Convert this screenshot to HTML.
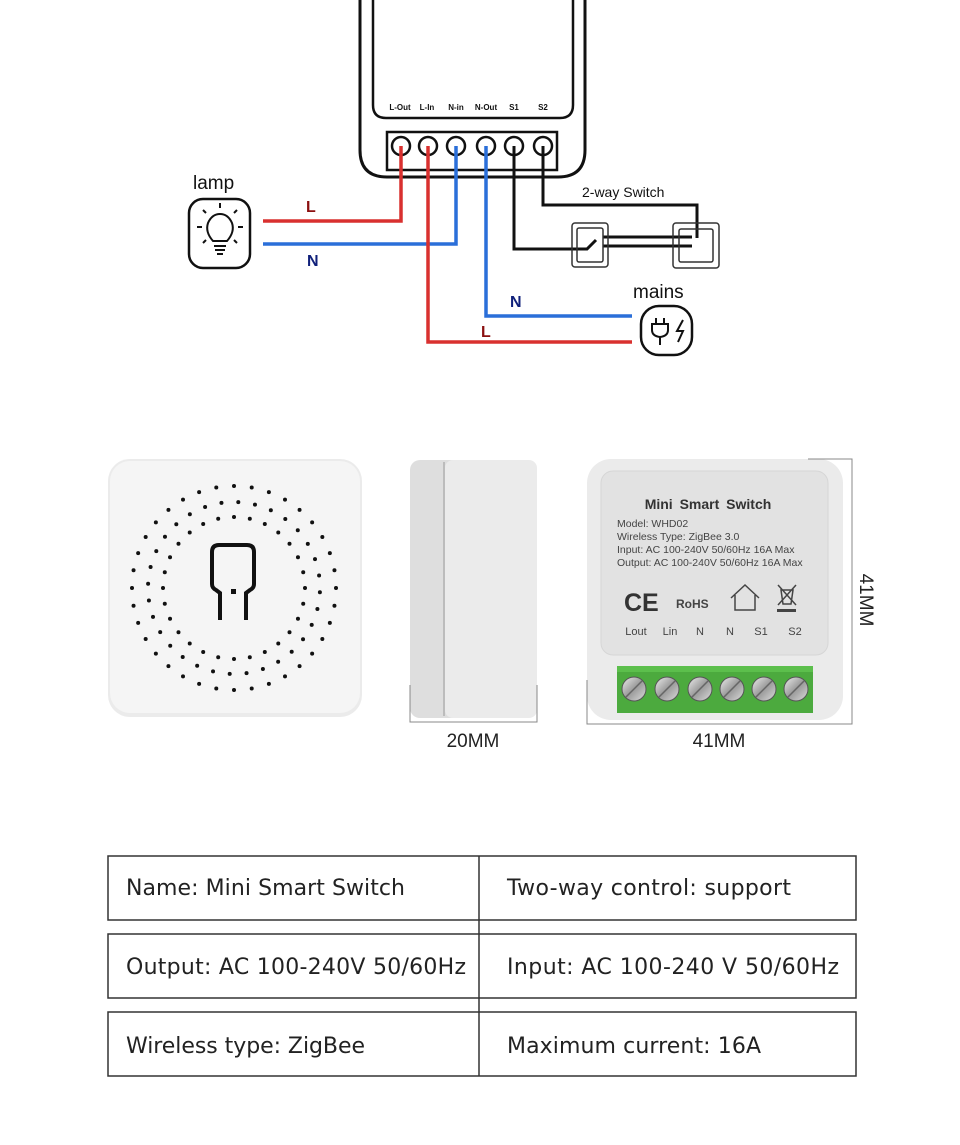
<!DOCTYPE html>
<html><head><meta charset="utf-8"><style>
body{margin:0;background:#fff;width:960px;height:1145px;overflow:hidden}
svg{display:block}
text{font-family:"Liberation Sans",sans-serif}
</style></head><body>
<svg id="s" width="960" height="1145" viewBox="0 0 960 1145" xmlns="http://www.w3.org/2000/svg">
<defs>
<linearGradient id="sc" x1="0" y1="0" x2="1" y2="1"><stop offset="0" stop-color="#eee"/><stop offset="0.5" stop-color="#999"/><stop offset="1" stop-color="#ddd"/></linearGradient>
</defs>
<path d="M360 0 V150 Q360 177 387 177 H558 Q585 177 585 150 V0" fill="none" stroke="#111" stroke-width="3"/>
<path d="M373 0 V105 Q373 118 386 118 H560 Q573 118 573 105 V0" fill="none" stroke="#111" stroke-width="2.5"/>
<g font-size="8" font-weight="bold" fill="#111" text-anchor="middle">
<text x="400" y="110">L-Out</text><text x="427" y="110">L-In</text><text x="456" y="110">N-in</text><text x="486" y="110">N-Out</text><text x="514" y="110">S1</text><text x="543" y="110">S2</text>
</g>
<rect x="387" y="132" width="170" height="38" fill="none" stroke="#111" stroke-width="2.5"/>
<g fill="none" stroke="#111" stroke-width="2.5">
<circle cx="401" cy="146" r="9"/><circle cx="428" cy="146" r="9"/><circle cx="456" cy="146" r="9"/><circle cx="486" cy="146" r="9"/><circle cx="514" cy="146" r="9"/><circle cx="543" cy="146" r="9"/>
</g>
<g fill="none" stroke-width="3.5">
<polyline points="401,146 401,221 263,221" stroke="#d9302f"/>
<polyline points="456,146 456,244 263,244" stroke="#2a6fd9"/>
<polyline points="486,146 486,316 632,316" stroke="#2a6fd9"/>
<polyline points="428,146 428,342 632,342" stroke="#d9302f"/>
<polyline points="514,146 514,249 587,249 596,240" stroke="#111" stroke-width="3"/>
<polyline points="543,146 543,205 697,205 697,238" stroke="#111" stroke-width="3"/>
<line x1="603" y1="237" x2="692" y2="237" stroke="#111" stroke-width="3"/>
<line x1="603" y1="246" x2="692" y2="246" stroke="#111" stroke-width="3"/>
</g>
<g fill="none" stroke="#333" stroke-width="1.5">
<rect x="572" y="223" width="36" height="44" rx="3"/><rect x="577" y="228" width="26" height="34" rx="2"/>
<rect x="673" y="223" width="46" height="45" rx="3"/><rect x="679" y="229" width="34" height="33" rx="2"/>
</g>
<g font-size="16" font-weight="bold">
<text x="306" y="212" fill="#8b1010">L</text><text x="307" y="266" fill="#10207a">N</text>
<text x="510" y="307" fill="#10207a">N</text><text x="481" y="337" fill="#8b1010">L</text>
</g>
<text x="582" y="197" font-size="14" fill="#111">2-way Switch</text>
<text x="193" y="189" font-size="19" fill="#111">lamp</text>
<text x="633" y="298" font-size="19" fill="#111">mains</text>
<rect x="189" y="199" width="61" height="69" rx="14" fill="none" stroke="#111" stroke-width="2.5"/>
<g stroke="#111" stroke-width="2" fill="none">
<path d="M213 241 Q205 232 208 223 Q212 214 220 214 Q228 214 232 223 Q235 232 227 241 Z"/>
<line x1="214" y1="246" x2="226" y2="246"/><line x1="215" y1="250" x2="225" y2="250"/><line x1="217" y1="254" x2="223" y2="254"/>
<line x1="220" y1="203" x2="220" y2="208"/><line x1="202" y1="227" x2="197" y2="227"/><line x1="238" y1="227" x2="243" y2="227"/>
<line x1="206" y1="213" x2="203" y2="210"/><line x1="234" y1="213" x2="237" y2="210"/><line x1="206" y1="240" x2="203" y2="243"/><line x1="234" y1="240" x2="237" y2="243"/>
</g>
<rect x="641" y="306" width="51" height="49" rx="18" fill="none" stroke="#111" stroke-width="2.5"/>
<g stroke="#111" stroke-width="2" fill="none">
<line x1="656" y1="318" x2="656" y2="324"/><line x1="664" y1="318" x2="664" y2="324"/>
<path d="M652 324 H668 V330 Q668 336 660 337 Q652 336 652 330 Z"/><line x1="660" y1="337" x2="660" y2="345"/>
<path d="M683 320 L677 331 H683 L678 342"/>
</g>
<rect x="108" y="459" width="254" height="258" rx="22" fill="#ebebeb"/>
<rect x="110" y="461" width="250" height="252" rx="20" fill="#f5f5f5"/>
<g id="dots" fill="#111"></g>
<path d="M212 584 V552 Q212 545 219 545 H247 Q254 545 254 552 V584 Q254 588 250 590 L246 593 V620 M212 584 Q212 588 216 590 L220 593 V620" fill="none" stroke="#111" stroke-width="4"/>
<rect x="231" y="589" width="5" height="5" fill="#111"/>
<rect x="410" y="460" width="127" height="258" rx="10" fill="#dedede"/>
<rect x="445" y="460" width="92" height="258" rx="8" fill="#ebebeb"/>
<line x1="444" y1="462" x2="444" y2="716" stroke="#999" stroke-width="1"/>
<polyline points="410,685 410,722 537,722 537,685" fill="none" stroke="#888" stroke-width="1"/>
<text x="473" y="747" font-size="19" fill="#222" text-anchor="middle">20MM</text>
<rect x="587" y="459" width="256" height="261" rx="24" fill="#ebebeb"/>
<rect x="601" y="471" width="227" height="184" rx="12" fill="#e2e2e2" stroke="#d6d6d6"/>
<text x="708" y="509" font-size="14" font-weight="bold" fill="#333" text-anchor="middle" word-spacing="3">Mini Smart Switch</text>
<g font-size="10.5" fill="#444">
<text x="617" y="527">Model: WHD02</text><text x="617" y="540">Wireless Type: ZigBee 3.0</text>
<text x="617" y="553">Input: AC 100-240V 50/60Hz 16A Max</text><text x="617" y="566">Output: AC 100-240V 50/60Hz 16A Max</text>
</g>
<text x="624" y="611" font-size="25" fill="#333" font-weight="bold">CE</text>
<text x="676" y="608" font-size="12" font-weight="bold" fill="#444">RoHS</text>
<path d="M731 598 L745 585 L759 598 M735 595 V610 H755 V595" fill="none" stroke="#444" stroke-width="1.5"/>
<g stroke="#444" stroke-width="1.5" fill="none"><path d="M778 585 L796 605 M796 585 L778 605 M781 590 H793 L791 604 H783 Z"/></g>
<rect x="777" y="609" width="19" height="3" fill="#444"/>
<g font-size="11" fill="#444" text-anchor="middle">
<text x="636" y="635">Lout</text><text x="670" y="635">Lin</text><text x="700" y="635">N</text><text x="730" y="635">N</text><text x="761" y="635">S1</text><text x="795" y="635">S2</text>
</g>
<rect x="617" y="666" width="196" height="47" fill="#4caa3e"/>
<rect x="617" y="666" width="196" height="6" fill="#5cbf4c"/>
<g stroke="#555" stroke-width="1">
<circle cx="634" cy="689" r="12" fill="url(#sc)"/><circle cx="667" cy="689" r="12" fill="url(#sc)"/><circle cx="700" cy="689" r="12" fill="url(#sc)"/><circle cx="732" cy="689" r="12" fill="url(#sc)"/><circle cx="764" cy="689" r="12" fill="url(#sc)"/><circle cx="796" cy="689" r="12" fill="url(#sc)"/>
</g>
<g stroke="#666" stroke-width="1.5">
<line x1="626" y1="697" x2="642" y2="681"/><line x1="659" y1="697" x2="675" y2="681"/><line x1="692" y1="697" x2="708" y2="681"/><line x1="724" y1="697" x2="740" y2="681"/><line x1="756" y1="697" x2="772" y2="681"/><line x1="788" y1="697" x2="804" y2="681"/>
</g>
<polyline points="587,680 587,724 852,724 852,459 808,459" fill="none" stroke="#888" stroke-width="1"/>
<text transform="translate(860,600) rotate(90)" font-size="19" fill="#222" text-anchor="middle">41MM</text>
<text x="719" y="747" font-size="19" fill="#222" text-anchor="middle">41MM</text>
<g fill="none" stroke="#333" stroke-width="1.5">
<rect x="108" y="856" width="748" height="64"/><rect x="108" y="934" width="748" height="64"/><rect x="108" y="1012" width="748" height="64"/>
<line x1="479" y1="856" x2="479" y2="1076"/>
</g>
<g font-size="22" fill="#222" style="font-family:'DejaVu Sans',sans-serif">
<text x="126" y="895" textLength="279" style="font-family:'DejaVu Sans',sans-serif">Name: Mini Smart Switch</text>
<text x="507" y="895" textLength="284" style="font-family:'DejaVu Sans',sans-serif">Two-way control: support</text>
<text x="126" y="974" textLength="340" style="font-family:'DejaVu Sans',sans-serif">Output: AC 100-240V 50/60Hz</text>
<text x="507" y="974" textLength="332" style="font-family:'DejaVu Sans',sans-serif">Input: AC 100-240 V 50/60Hz</text>
<text x="126" y="1053" textLength="239" style="font-family:'DejaVu Sans',sans-serif">Wireless type: ZigBee</text>
<text x="507" y="1053" textLength="254" style="font-family:'DejaVu Sans',sans-serif">Maximum current: 16A</text>
</g>
</svg>
<script>
var g=document.getElementById('dots'),ns='http://www.w3.org/2000/svg';
[[102,36,0],[86,32,0.05],[71,28,0]].forEach(function(r){for(var i=0;i<r[1];i++){var a=2*Math.PI*i/r[1]+r[2];var c=document.createElementNS(ns,'circle');c.setAttribute('cx',234+r[0]*Math.cos(a));c.setAttribute('cy',588+r[0]*Math.sin(a));c.setAttribute('r',2);g.appendChild(c);}});
</script>
</body></html>
